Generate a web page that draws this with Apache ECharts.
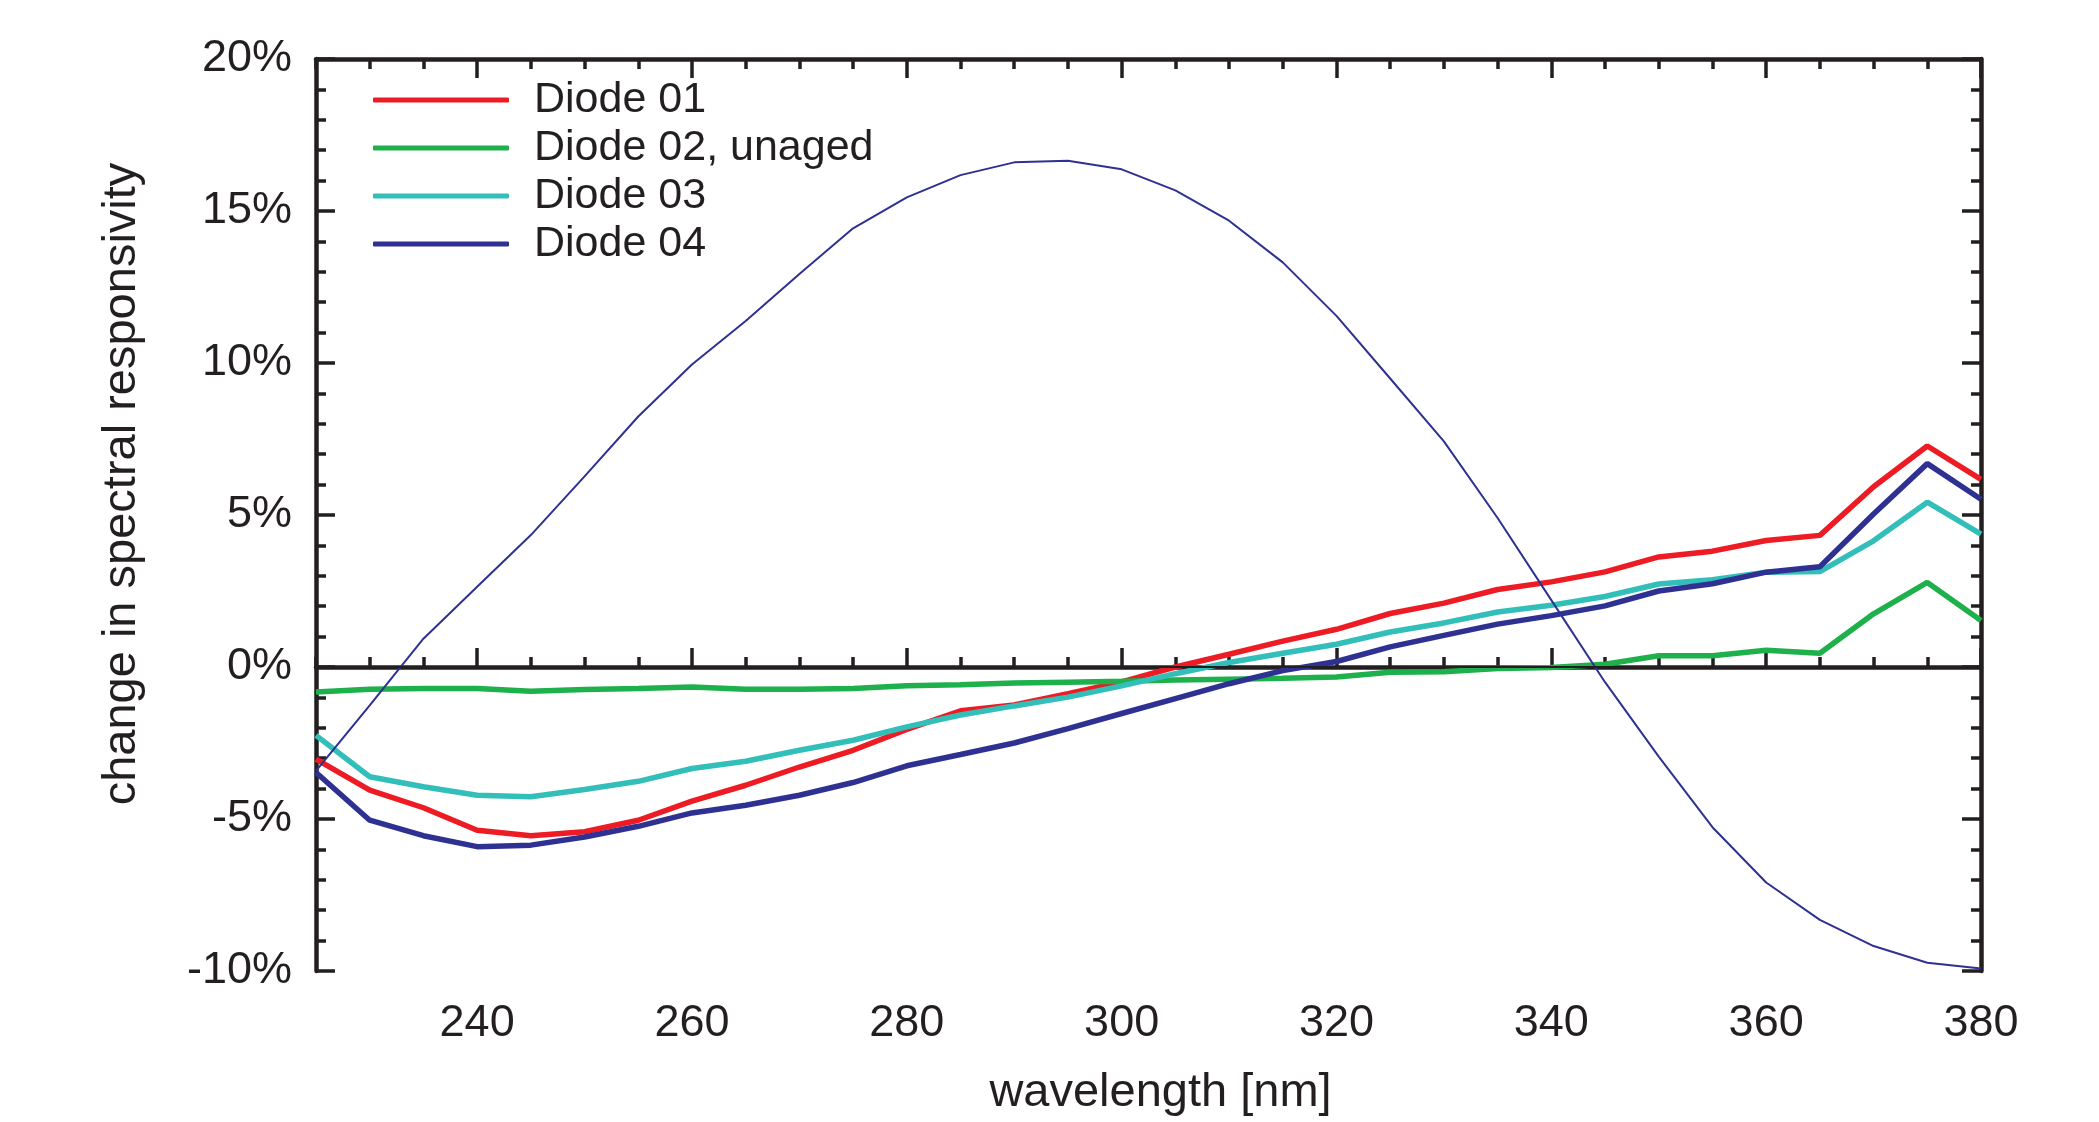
<!DOCTYPE html>
<html>
<head>
<meta charset="utf-8">
<script src="https://cdn.jsdelivr.net/npm/echarts@6/dist/echarts.min.js"></script>
<style>
html,body{margin:0;padding:0;background:#fff;}
#chart{width:2099px;height:1122px;}
</style>
</head>
<body>
<div id="chart"></div>
<script>
const wavelengths = [225,230,235,240,245,250,255,260,265,270,275,280,285,290,295,300,305,310,315,320,325,330,335,340,345,350,355,360,365,370,375,380];
const diode01 = [-3.03,-4.05,-4.63,-5.37,-5.55,-5.42,-5.04,-4.41,-3.89,-3.29,-2.74,-2.05,-1.44,-1.25,-0.88,-0.49,0.0,0.42,0.85,1.24,1.76,2.10,2.55,2.80,3.13,3.62,3.81,4.16,4.33,5.93,7.27,6.17];
const diode02 = [-0.82,-0.73,-0.71,-0.71,-0.80,-0.74,-0.71,-0.66,-0.73,-0.73,-0.71,-0.62,-0.58,-0.53,-0.50,-0.47,-0.43,-0.40,-0.37,-0.33,-0.17,-0.16,-0.05,-0.02,0.09,0.37,0.37,0.55,0.45,1.75,2.78,1.53];
const diode03 = [-2.25,-3.61,-3.94,-4.22,-4.27,-4.03,-3.76,-3.34,-3.10,-2.74,-2.41,-1.97,-1.58,-1.28,-0.99,-0.62,-0.22,0.15,0.45,0.75,1.15,1.45,1.81,2.03,2.32,2.73,2.87,3.12,3.14,4.15,5.42,4.37];
const diode04 = [-3.47,-5.04,-5.55,-5.91,-5.86,-5.59,-5.24,-4.80,-4.55,-4.22,-3.80,-3.25,-2.88,-2.50,-2.03,-1.53,-1.04,-0.55,-0.12,0.18,0.66,1.04,1.41,1.69,2.01,2.50,2.74,3.12,3.30,5.03,6.69,5.52];
const thinCurve = [-3.42,-1.26,0.93,2.64,4.34,6.27,8.24,9.95,11.38,12.93,14.43,15.45,16.18,16.60,16.65,16.37,15.68,14.68,13.31,11.55,9.49,7.42,4.90,2.20,-0.50,-2.95,-5.27,-7.09,-8.32,-9.18,-9.73,-9.92];
const xMajorTicks = [240,260,280,300,320,340,360,380];
const seriesNames = ['Diode 01','Diode 02, unaged','Diode 03','Diode 04'];
const xTitle = 'wavelength [nm]';
const yTitle = 'change in spectral responsivity';

const INK = '#231f20';
const FONT = '"Liberation Sans", Arial, Helvetica, sans-serif';
const colors = ['#ed1c24','#1db04b','#33bfb9','#2e3192'];

function pairs(ys){ return wavelengths.map((x,i)=>[x, ys[i]]); }

const axisLine = {show:true, lineStyle:{color:INK, width:4.5}};
const xBase = {type:'value', min:225, max:380, splitLine:{show:false}};

const chart = echarts.init(document.getElementById('chart'), null, {renderer:'canvas'});
chart.setOption({
  animation:false,
  backgroundColor:'#ffffff',
  grid:{left:316, right:118, top:59, bottom:150, containLabel:false},
  legend:{
    orient:'vertical', left:368, top:71, itemGap:0,
    itemWidth:136, itemHeight:5, icon:'roundRect',
    data:seriesNames,
    textStyle:{fontFamily:FONT, fontSize:43, color:INK, lineHeight:48, padding:[0,0,0,20]}
  },
  xAxis:[
    Object.assign({}, xBase, {
      position:'bottom', interval:5,
      axisLine:axisLine,
      axisTick:{show:true, inside:true, length:10, lineStyle:{color:INK, width:3.5}},
      axisLabel:{show:true, fontFamily:FONT, fontSize:45, color:INK, margin:30,
        formatter:function(v){ return (v % 20 === 0 && v > 225) ? String(v) : ''; }},
      name:xTitle, nameLocation:'middle', nameGap:99,
      nameTextStyle:{fontFamily:FONT, fontSize:47, color:INK, padding:[0,0,0,24]}
    }),
    Object.assign({}, xBase, {
      position:'bottom',
      axisLine:{show:false},
      axisTick:{show:true, inside:true, length:19, customValues:xMajorTicks, lineStyle:{color:INK, width:3.5}},
      axisLabel:{show:false}
    }),
    Object.assign({}, xBase, {
      position:'top', interval:5,
      axisLine:axisLine,
      axisTick:{show:true, inside:true, length:10, lineStyle:{color:INK, width:3.5}},
      axisLabel:{show:false}
    }),
    Object.assign({}, xBase, {
      position:'top',
      axisLine:{show:false},
      axisTick:{show:true, inside:true, length:19, customValues:xMajorTicks, lineStyle:{color:INK, width:3.5}},
      axisLabel:{show:false}
    })
  ],
  yAxis:[
    {
      type:'value', position:'left', min:-10, max:20, interval:5,
      axisLine:axisLine,
      axisTick:{show:true, inside:true, length:19, lineStyle:{color:INK, width:3.5}},
      minorTick:{show:true, splitNumber:5, length:10, lineStyle:{color:INK, width:3.5}},
      splitLine:{show:false},
      axisLabel:{show:true, fontFamily:FONT, fontSize:45, color:INK, margin:24,
        formatter:function(v){ return v + '%'; }},
      name:yTitle, nameLocation:'middle', nameGap:170, nameRotate:90,
      nameTextStyle:{fontFamily:FONT, fontSize:47, color:INK, padding:[0,0,0,62]}
    },
    {
      type:'value', position:'right', min:-10, max:20, interval:5,
      axisLine:axisLine,
      axisTick:{show:true, inside:true, length:19, lineStyle:{color:INK, width:3.5}},
      minorTick:{show:true, splitNumber:5, length:10, lineStyle:{color:INK, width:3.5}},
      splitLine:{show:false},
      axisLabel:{show:false}
    }
  ],
  series:[
    {name:'zero', type:'line', data:[], silent:true,
     markLine:{silent:true, symbol:['none','none'], label:{show:false},
       lineStyle:{color:INK, width:2, type:'solid'}, data:[{yAxis:0}]}},
    {name:seriesNames[0], type:'line', data:pairs(diode01), showSymbol:false, color:colors[0], lineStyle:{width:5.5, color:colors[0]}},
    {name:seriesNames[1], type:'line', data:pairs(diode02), showSymbol:false, color:colors[1], lineStyle:{width:5.5, color:colors[1]}},
    {name:seriesNames[2], type:'line', data:pairs(diode03), showSymbol:false, color:colors[2], lineStyle:{width:5.5, color:colors[2]}},
    {name:seriesNames[3], type:'line', data:pairs(diode04), showSymbol:false, color:colors[3], lineStyle:{width:5.5, color:colors[3]}},
    {name:'thin', type:'line', data:pairs(thinCurve), showSymbol:false, color:colors[3], lineStyle:{width:2, color:colors[3]}}
  ]
});
</script>
</body>
</html>
